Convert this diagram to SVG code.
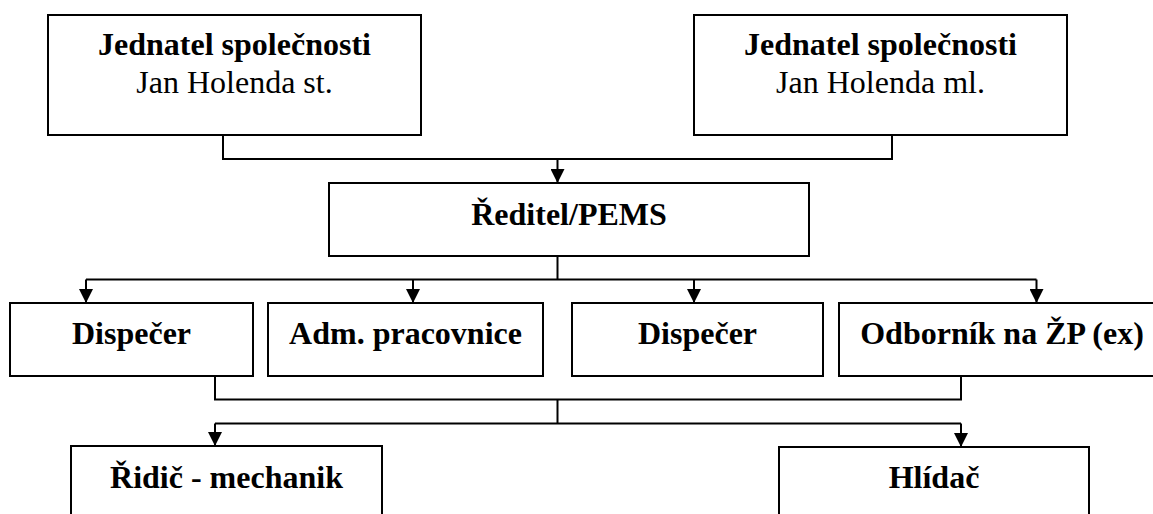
<svg xmlns="http://www.w3.org/2000/svg" width="1153" height="514" viewBox="0 0 1153 514">
<style>
.box{fill:#fff;stroke:#000;stroke-width:2}
.con{fill:none;stroke:#000;stroke-width:2}
text{font-family:"Liberation Serif","Times New Roman",serif;font-size:32px;fill:#000;text-anchor:middle}
.b{font-weight:bold}
</style>
<defs>
<marker id="arr" markerUnits="userSpaceOnUse" markerWidth="14" markerHeight="14" refX="14" refY="7" orient="auto" viewBox="0 0 14 14">
<path d="M0,0 L14,7 L0,14 Z" fill="#000"/>
</marker>
</defs>
<rect width="1153" height="514" fill="#fff"/>
<g id="connectors">
<path class="con" d="M223,135 V159 H892 V135"/>
<path class="con" d="M557.5,159 V183" marker-end="url(#arr)"/>
<path class="con" d="M557.5,256 V279.5"/>
<path class="con" d="M86,279.5 H1036.5"/>
<path class="con" d="M86,279.5 V303" marker-end="url(#arr)"/>
<path class="con" d="M413,279.5 V303" marker-end="url(#arr)"/>
<path class="con" d="M694,279.5 V303" marker-end="url(#arr)"/>
<path class="con" d="M1036.5,279.5 V303" marker-end="url(#arr)"/>
<path class="con" d="M215,376 V399.5 H961 V376"/>
<path class="con" d="M557.5,399.5 V423.5"/>
<path class="con" d="M215,423.5 H961"/>
<path class="con" d="M215,423.5 V446" marker-end="url(#arr)"/>
<path class="con" d="M961,423.5 V447" marker-end="url(#arr)"/>
</g>
<g id="jednatel-st">
<rect class="box" x="48" y="15" width="373" height="120"/>
<text class="b" x="234.5" y="55">Jednatel společnosti</text>
<text x="234.5" y="93">Jan Holenda st.</text>
</g>
<g id="jednatel-ml">
<rect class="box" x="694" y="15" width="373" height="120"/>
<text class="b" x="880.5" y="55">Jednatel společnosti</text>
<text x="880.5" y="93">Jan Holenda ml.</text>
</g>
<g id="reditel">
<rect class="box" x="329" y="183" width="480" height="73"/>
<text class="b" x="569" y="225">Ředitel/PEMS</text>
</g>
<g id="dispecer1">
<rect class="box" x="10" y="303" width="243" height="73"/>
<text class="b" x="131.5" y="344">Dispečer</text>
</g>
<g id="adm">
<rect class="box" x="268" y="303" width="275" height="73"/>
<text class="b" x="405.5" y="344">Adm. pracovnice</text>
</g>
<g id="dispecer2">
<rect class="box" x="572" y="303" width="251" height="73"/>
<text class="b" x="697.5" y="344">Dispečer</text>
</g>
<g id="odbornik">
<rect class="box" x="839" y="303" width="326" height="73"/>
<text class="b" x="1002" y="344">Odborník na ŽP (ex)</text>
</g>
<g id="ridic">
<rect class="box" x="71" y="446" width="311" height="100"/>
<text class="b" x="226.5" y="488">Řidič - mechanik</text>
</g>
<g id="hlidac">
<rect class="box" x="779" y="447" width="310" height="100"/>
<text class="b" x="934" y="488">Hlídač</text>
</g>
</svg>
